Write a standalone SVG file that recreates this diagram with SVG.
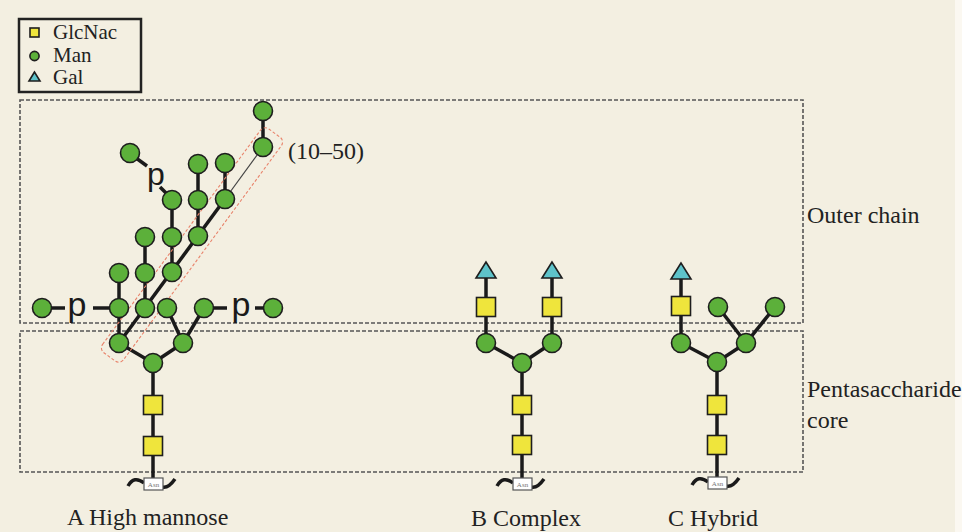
<svg xmlns="http://www.w3.org/2000/svg" width="962" height="532" viewBox="0 0 962 532">
<defs>
<style>
.bg{fill:#f3efe1}
.box{fill:none;stroke:#555;stroke-width:1.6;stroke-dasharray:4 2}
.ln{stroke:#1a1a1a;stroke-width:3.5;stroke-linecap:butt;fill:none}
.thin{stroke:#444;stroke-width:1.2;fill:none}
.man{fill:#5cb03a;stroke:#1e1e1e;stroke-width:1.6}
.gn{fill:#efe53c;stroke:#1e1e1e;stroke-width:1.6}
.gal{fill:#5ec3ca;stroke:#1e1e1e;stroke-width:1.6}
.asn{fill:#fff;stroke:#555;stroke-width:1.2}
.asnt{font-family:"Liberation Serif",serif;font-size:7px;fill:#777;text-anchor:middle}
.t{font-family:"Liberation Serif",serif;font-size:24px;fill:#222}
.lg{font-family:"Liberation Serif",serif;font-size:21px;fill:#222}
.p{font-family:"Liberation Sans",Arial,sans-serif;fill:#1a1a1a;text-anchor:middle}
.red{fill:none;stroke:#e8836b;stroke-width:1.1;stroke-dasharray:3 2}
</style>
<circle id="M" class="man" r="9.5"/>
<rect id="G" class="gn" x="-9.5" y="-9.5" width="19" height="19"/>
<polygon id="T" class="gal" points="0,-9 -10,7 10,7"/>
</defs>
<rect class="bg" x="0" y="0" width="962" height="532"/>
<rect x="955" y="0" width="7" height="532" fill="#fbf8f1"/>

<g id="legend">
<rect x="19" y="19" width="122" height="73" fill="none" stroke="#222" stroke-width="2.5"/>
<rect x="30" y="28" width="9" height="9" class="gn" stroke-width="1.2"/>
<circle cx="34.5" cy="56" r="4.6" class="man" stroke-width="1.2"/>
<polygon points="34.5,72 29,81 40,81" class="gal" stroke-width="1.2"/>
<text class="lg" x="53" y="39">GlcNac</text>
<text class="lg" x="53" y="62">Man</text>
<text class="lg" x="53" y="84">Gal</text>
</g>

<g id="regions">
<rect class="box" x="20" y="100" width="783" height="223"/>
<rect class="box" x="20" y="331" width="783" height="141"/>
<text class="t" x="807" y="223">Outer chain</text>
<text class="t" x="807" y="397">Pentasaccharide</text>
<text class="t" x="807" y="428">core</text>
</g>

<g id="connectors">
<line class="ln" x1="153" y1="478" x2="153" y2="363"/>
<line class="ln" x1="153" y1="363" x2="119" y2="343"/>
<line class="ln" x1="153" y1="363" x2="183" y2="343"/>
<line class="ln" x1="119" y1="343" x2="119" y2="273"/>
<line class="ln" x1="119" y1="343" x2="225" y2="199"/>
<line class="thin" x1="225" y1="199" x2="263" y2="147"/>
<line class="ln" x1="263" y1="147" x2="263" y2="111"/>
<line class="ln" x1="145" y1="308" x2="145" y2="237"/>
<line class="ln" x1="172" y1="272" x2="172" y2="200"/>
<line class="ln" x1="198" y1="236" x2="198" y2="164"/>
<line class="ln" x1="225" y1="199" x2="225" y2="163"/>
<line class="ln" x1="183" y1="343" x2="167" y2="308"/>
<line class="ln" x1="183" y1="343" x2="204" y2="308"/>
<line class="ln" x1="50" y1="308" x2="65" y2="308"/>
<line class="ln" x1="93" y1="308" x2="111" y2="308"/>
<line class="ln" x1="212" y1="308" x2="227" y2="308"/>
<line class="ln" x1="255" y1="308" x2="265" y2="308"/>
<line class="ln" x1="136" y1="158" x2="147" y2="166"/>
<line class="ln" x1="160" y1="187" x2="170" y2="197"/>
<line class="ln" x1="522" y1="478" x2="522" y2="363"/>
<line class="ln" x1="522" y1="363" x2="486" y2="343"/>
<line class="ln" x1="522" y1="363" x2="552" y2="343"/>
<line class="ln" x1="486" y1="343" x2="486" y2="272"/>
<line class="ln" x1="552" y1="343" x2="552" y2="272"/>
<line class="ln" x1="717" y1="477" x2="717" y2="362"/>
<line class="ln" x1="717" y1="362" x2="681" y2="343"/>
<line class="ln" x1="717" y1="362" x2="746" y2="343"/>
<line class="ln" x1="681" y1="343" x2="681" y2="272"/>
<line class="ln" x1="746" y1="343" x2="718" y2="307"/>
<line class="ln" x1="746" y1="343" x2="775" y2="307"/>
<path class="ln" stroke-width="2.6" d="M128,486 Q134,475 144,483"/>
<path class="ln" stroke-width="2.6" d="M162,487 Q168,489 175,479"/>
<path class="ln" stroke-width="2.6" d="M497,486 Q503,475 513,483"/>
<path class="ln" stroke-width="2.6" d="M531,487 Q537,489 544,479"/>
<path class="ln" stroke-width="2.6" d="M692,485 Q698,474 708,482"/>
<path class="ln" stroke-width="2.6" d="M726,486 Q732,488 739,478"/>
</g>

<g id="phosphates">
<text class="p" x="77" y="316" font-size="34">p</text>
<text class="p" x="241" y="316" font-size="34">p</text>
<text class="p" x="156" y="185" font-size="32">p</text>
</g>

<g id="highlight">
<rect class="red" transform="translate(192,245) rotate(-53.6)" x="-139" y="-13" width="278" height="26" rx="6"/>
<text class="t" x="288" y="159">(10–50)</text>
</g>

<g id="A-high-mannose">
<g id="a-asn"><rect class="asn" x="144" y="478" width="19" height="12"/><text class="asnt" x="153.5" y="487">Asn</text></g>
<use id="a-g1" href="#G" x="153" y="446"/>
<use id="a-g2" href="#G" x="153" y="405"/>
<use id="a-m1" href="#M" x="153" y="363"/>
<use id="a-m2" href="#M" x="119" y="343"/>
<use id="a-m3" href="#M" x="183" y="343"/>
<use id="a-m4" href="#M" x="42" y="308"/>
<use id="a-m5" href="#M" x="119" y="308"/>
<use id="a-m6" href="#M" x="145" y="308"/>
<use id="a-m7" href="#M" x="167" y="308"/>
<use id="a-m8" href="#M" x="204" y="308"/>
<use id="a-m9" href="#M" x="273" y="308"/>
<use id="a-m10" href="#M" x="119" y="273"/>
<use id="a-m11" href="#M" x="145" y="273"/>
<use id="a-m12" href="#M" x="172" y="272"/>
<use id="a-m13" href="#M" x="145" y="237"/>
<use id="a-m14" href="#M" x="172" y="237"/>
<use id="a-m15" href="#M" x="198" y="236"/>
<use id="a-m16" href="#M" x="172" y="200"/>
<use id="a-m17" href="#M" x="198" y="200"/>
<use id="a-m18" href="#M" x="225" y="199"/>
<use id="a-m19" href="#M" x="198" y="164"/>
<use id="a-m20" href="#M" x="225" y="163"/>
<use id="a-m21" href="#M" x="130" y="153"/>
<use id="a-m22" href="#M" x="263" y="147"/>
<use id="a-m23" href="#M" x="263" y="111"/>
<text class="t" x="67" y="525">A High mannose</text>
</g>

<g id="B-complex">
<g id="b-asn"><rect class="asn" x="513" y="478" width="19" height="12"/><text class="asnt" x="522.5" y="487">Asn</text></g>
<use id="b-g1" href="#G" x="522" y="445"/>
<use id="b-g2" href="#G" x="522" y="405"/>
<use id="b-m1" href="#M" x="522" y="363"/>
<use id="b-m2" href="#M" x="486" y="343"/>
<use id="b-m3" href="#M" x="552" y="343"/>
<use id="b-g3" href="#G" x="486" y="307"/>
<use id="b-g4" href="#G" x="552" y="307"/>
<use id="b-t1" href="#T" x="486" y="271"/>
<use id="b-t2" href="#T" x="552" y="271"/>
<text class="t" x="471" y="526">B Complex</text>
</g>

<g id="C-hybrid">
<g id="c-asn"><rect class="asn" x="708" y="477" width="19" height="12"/><text class="asnt" x="717.5" y="486">Asn</text></g>
<use id="c-g1" href="#G" x="717" y="445"/>
<use id="c-g2" href="#G" x="717" y="405"/>
<use id="c-m1" href="#M" x="717" y="362"/>
<use id="c-m2" href="#M" x="681" y="343"/>
<use id="c-m3" href="#M" x="746" y="343"/>
<use id="c-g3" href="#G" x="681" y="306"/>
<use id="c-t1" href="#T" x="681" y="272"/>
<use id="c-m4" href="#M" x="718" y="307"/>
<use id="c-m5" href="#M" x="775" y="307"/>
<text class="t" x="668" y="526">C Hybrid</text>
</g>
</svg>
